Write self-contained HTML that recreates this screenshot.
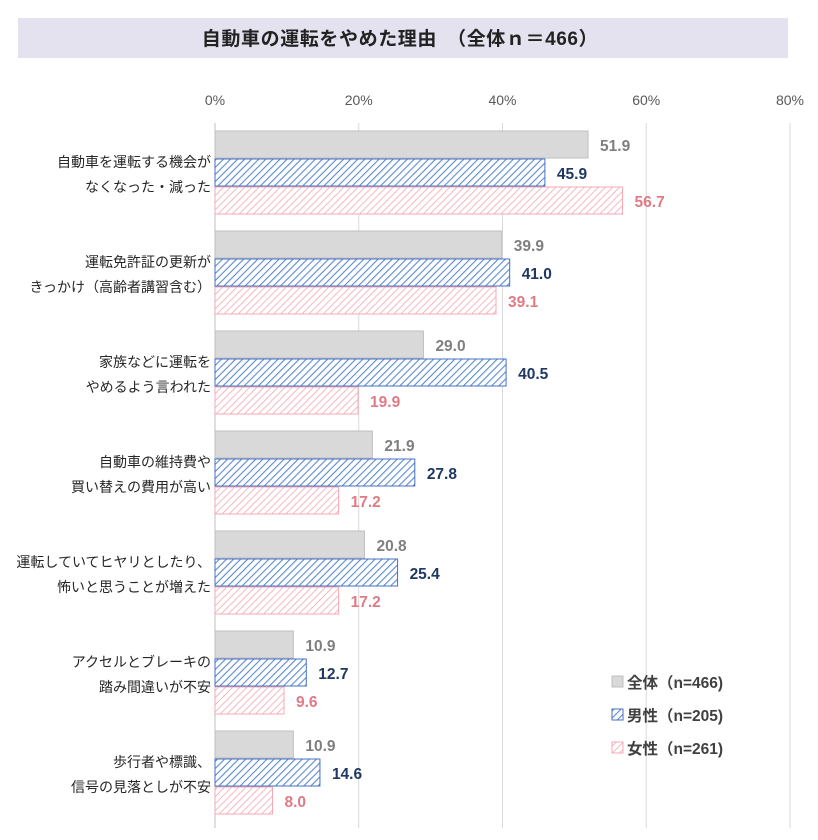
<!DOCTYPE html>
<html><head><meta charset="utf-8"><style>
body{margin:0;background:#fff;}
svg{display:block;font-family:"Liberation Sans","Noto Sans CJK JP",sans-serif;}
</style></head><body>
<svg id="chart" width="818" height="840">
<defs>
<pattern id="hb" width="5" height="5" patternUnits="userSpaceOnUse" patternTransform="rotate(45)">
<rect width="5" height="5" fill="#fff"/><line x1="0" y1="0" x2="0" y2="5" stroke="#5b8bd0" stroke-width="2.2"/></pattern>
<pattern id="hp" width="5" height="5" patternUnits="userSpaceOnUse" patternTransform="rotate(45)">
<rect width="5" height="5" fill="#fff"/><line x1="0" y1="0" x2="0" y2="5" stroke="#f6b8c0" stroke-width="2"/></pattern>
</defs>
<rect x="18" y="18" width="770" height="40" fill="#e4e2ef"/>
<text x="400" y="45" text-anchor="middle" font-size="19" font-weight="bold" fill="#222" letter-spacing="0.6">自動車の運転をやめた理由　（全体ｎ＝466）</text>
<g id="grid"></g><g id="bars"></g><g id="cats"></g>
<g>
<rect x="612" y="676" width="11" height="11" fill="#d9d9d9" stroke="#bfbfbf"/>
<text x="627" y="688" font-size="15.5" font-weight="bold" fill="#404040">全体（n=466)</text>
<rect x="612" y="709" width="11" height="11" fill="url(#hb)" stroke="#4472c4"/>
<text x="627" y="721" font-size="15.5" font-weight="bold" fill="#404040">男性（n=205)</text>
<rect x="612" y="742" width="11" height="11" fill="url(#hp)" stroke="#f4a9b4"/>
<text x="627" y="754" font-size="15.5" font-weight="bold" fill="#404040">女性（n=261)</text>
</g>
</svg>
<script>
const categories=[["自動車を運転する機会が","なくなった・減った"],["運転免許証の更新が","きっかけ（高齢者講習含む）"],["家族などに運転を","やめるよう言われた"],["自動車の維持費や","買い替えの費用が高い"],["運転していてヒヤリとしたり、","怖いと思うことが増えた"],["アクセルとブレーキの","踏み間違いが不安"],["歩行者や標識、","信号の見落としが不安"]];
const allValues=[51.9,39.9,29.0,21.9,20.8,10.9,10.9];
const maleValues=[45.9,41.0,40.5,27.8,25.4,12.7,14.6];
const femaleValues=[56.7,39.1,19.9,17.2,17.2,9.6,8.0];
const ticks=[0,20,40,60,80];
const NS="http://www.w3.org/2000/svg";
const x=v=>215+v*7.1875;
const gy=i=>131+i*100;
function mk(t,a,p){const e=document.createElementNS(NS,t);for(const k in a)e.setAttribute(k,a[k]);p.appendChild(e);return e;}
const grid=document.getElementById('grid'),bars=document.getElementById('bars'),cats=document.getElementById('cats');
ticks.forEach(t=>{
 const l=mk('line',{x1:x(t),x2:x(t),y1:123,y2:828,stroke:t===0?'#bfbfbf':'#d9d9d9','stroke-width':1},grid);
 
 
 const tx=mk('text',{x:x(t),y:105,'text-anchor':'middle','font-size':14,fill:'#595959'},grid);
 tx.textContent=t+'%';
 
 
});
const series=[{v:allValues,fill:'#d9d9d9',stroke:'#bfbfbf',c:'#7f7f7f',n:'all'},{v:maleValues,fill:'url(#hb)',stroke:'#4472c4',c:'#1f3864',n:'male'},{v:femaleValues,fill:'url(#hp)',stroke:'#f4a9b4',c:'#e07b85',n:'female'}];
categories.forEach((c,i)=>{
 series.forEach((s,j)=>{
  const y=gy(i)+j*28;
  const r=mk('rect',{x:215,y:y,width:x(s.v[i])-215,height:27,fill:s.fill,stroke:s.stroke},bars);
  
  
  const t=mk('text',{x:x(s.v[i])+12,y:y+20,'font-size':15.5,'font-weight':'bold',fill:s.c},bars);
  t.textContent=s.v[i].toFixed(1);
  
  
 });
 c.forEach((line,k)=>{
  const t=mk('text',{x:211,y:gy(i)+36+k*25,'text-anchor':'end','font-size':14,fill:'#262626'},cats);
  t.textContent=line;
  
  
 });
});
</script>
</body></html>
